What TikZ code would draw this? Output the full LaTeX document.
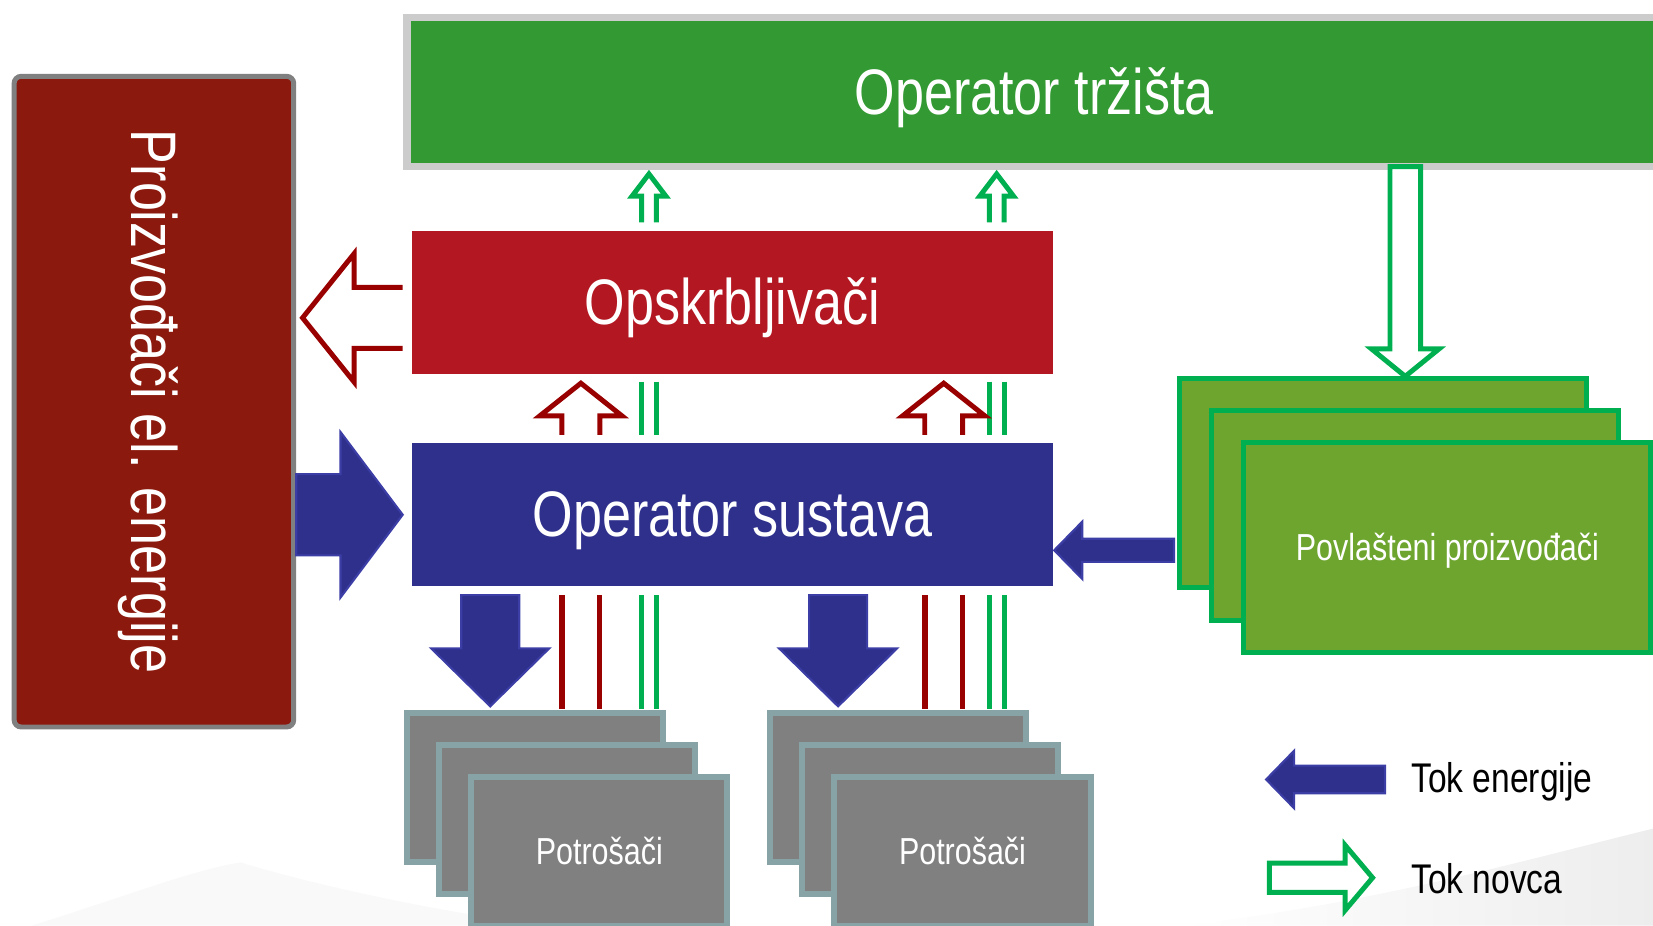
\documentclass[tikz,border=0pt]{standalone}
\usepackage{fontspec}
\setmainfont{Liberation Sans}[FakeStretch=0.81]
\usepackage{tikz}
\usetikzlibrary{positioning,calc}
\definecolor{marketgreen}{HTML}{339933}
\definecolor{framegrey}{HTML}{CCCCCC}
\definecolor{supplyred}{HTML}{B31722}
\definecolor{gridblue}{HTML}{2E308C}
\definecolor{gridedge}{HTML}{3C3EA6}
\definecolor{genred}{HTML}{8B190D}
\definecolor{genedge}{HTML}{808080}
\definecolor{qualgreen}{HTML}{6EA52F}
\definecolor{flowgreen}{HTML}{00B050}
\definecolor{flowred}{HTML}{990000}
\definecolor{loadgrey}{HTML}{808080}
\definecolor{loadedge}{HTML}{88A3A5}
\newdimen\px \px=0.10542mm
\tikzset{
  blk/.style={rectangle, fill=#1, inner sep=0pt, outer sep=0pt, text=white,
              align=center, text depth=0pt},
  dims/.style 2 args={minimum width=#1*\px, minimum height=#2*\px},
  big/.style={font=\fontsize{18.3}{22}\selectfont, text height=12.6pt},
  small/.style={font=\fontsize{10.7}{13}\selectfont, text height=7.4pt},
  money/.style={draw=flowgreen, fill=white, line width=4.7*\px},
  pay/.style={draw=flowred, fill=white, line width=4.7*\px},
  energy/.style={fill=gridblue, draw=gridedge, line width=2*\px},
  redwire/.style={draw=flowred, line width=5*\px},
  greenwire/.style={draw=flowgreen, line width=4.7*\px},
  lgd/.style={anchor=base west, inner sep=0pt, font=\fontsize{11.8}{14}\selectfont},
  % length / head length / shaft half width / head half width
  pics/openarrow/.style n args={4}{code={
    \path[pic actions] (0,-#3) -- (#1-#2,-#3) -- (#1-#2,-#4) -- (#1,0)
      -- (#1-#2,#4) -- (#1-#2,#3) -- (0,#3);}},
  pics/blockarrow/.style n args={4}{code={
    \path[pic actions] (0,-#3) -- (#1-#2,-#3) -- (#1-#2,-#4) -- (#1,0)
      -- (#1-#2,#4) -- (#1-#2,#3) -- (0,#3) -- cycle;}},
}
\begin{document}
\begin{tikzpicture}[x=0.10542mm, y=0.10542mm]
  \clip (0,0) rectangle (1568,-878);

  \fill[gray!5] (30,-878) .. controls (120,-850) and (180,-826) .. (228,-818)
    .. controls (300,-840) and (420,-866) .. (520,-878) -- cycle;
  \shade[left color=white, right color=gray!14] (1120,-878)
    .. controls (1300,-858) and (1450,-815) .. (1568,-786) -- (1568,-878) -- cycle;

  \node[blk=genred, draw=genedge, line width=4.7*\px, rounded corners=2pt,
        rotate=-90, dims={617.2}{265.2}, big] (gen) at (146,-381) {Proizvođači el. energije};
  \node[blk=marketgreen, draw=framegrey, line width=7*\px, dims={1190}{141.5}, big] (market) at (981,-87.25) {Operator tržišta};
  \node[blk=supplyred, dims={608.5}{136}, big] (supply) at (694.75,-287) {Opskrbljivači};
  \node[blk=gridblue, dims={608.5}{135.5}, big] (system) at (694.75,-488.25) {Operator sustava};

  \foreach \k/\t in {0/,1/,2/Povlašteni proizvođači}
    \node[blk=qualgreen, draw=flowgreen, line width=4.7*\px, dims={386}{198.8}, small]
      (qual\k) at (1312+30.5*\k,-458.3-30.5*\k) {\t};

  \foreach \s/\dx in {a/0,b/344.5}
    \foreach \k/\t in {0/,1/,2/Potrošači}
      \node[blk=loadgrey, draw=loadedge, line width=5.7*\px, dims={243}{141.6}, small]
        (load\s\k) at (507.5+\dx+30.5*\k,-746.8-30.5*\k) {\t};

  \foreach \x in {533,569,877.5,913}
    \draw[redwire] (\x,-564.5) -- (\x,-673);
  \foreach \x in {608.5,622.5,938.3,952.5} {
    \draw[greenwire] (\x,-362) -- (\x,-412.5);
    \draw[greenwire] (\x,-564.5) -- (\x,-673);
  }

  \foreach \dx in {0,329.8}
    \pic[money, rotate=90] at (615.6+\dx,-211) {openarrow={46}{21}{7}{16}};
  \foreach \dx in {0,344.2}
    \pic[pay, rotate=90] at (551+\dx,-412.5) {openarrow={49}{31}{18}{39}};
  \pic[pay, rotate=180] at (382,-301.5) {openarrow={95}{49}{29}{61}};
  \pic[money, rotate=-90] at (1333,-158) {blockarrow={199}{26}{14.5}{32}};

  \pic[energy] at (281,-488.3) {blockarrow={101}{59}{38.5}{78.5}};
  \foreach \dx in {0,330}
    \pic[energy, rotate=-90] at (465+\dx,-564.5) {blockarrow={105.5}{55}{27.5}{56}};
  \pic[energy, rotate=180] at (1113.6,-522) {blockarrow={113.6}{26.6}{11}{27.2}};

  \pic[energy, rotate=180] at (1313.8,-739.4) {blockarrow={112.8}{26.5}{13.1}{27.2}};
  \pic[money] at (1204,-832.6) {blockarrow={98}{26}{13.8}{30.8}};
  \node[lgd] (legenergy) at (1338,-752) {Tok energije};
  \node[lgd] (legmoney) at (1338,-848) {Tok novca};
\end{tikzpicture}
\end{document}
